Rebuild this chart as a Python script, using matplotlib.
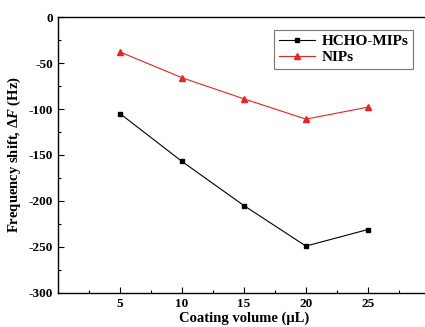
import matplotlib
matplotlib.use("Agg")
import matplotlib.pyplot as plt
from matplotlib.ticker import MultipleLocator

plt.rcParams['font.family'] = 'Liberation Serif'
plt.rcParams['font.weight'] = 'bold'
plt.rcParams['axes.unicode_minus'] = False
plt.rcParams['mathtext.fontset'] = 'custom'
plt.rcParams['mathtext.rm'] = 'Liberation Serif:bold'
plt.rcParams['mathtext.it'] = 'Liberation Serif:italic:bold'
plt.rcParams['mathtext.bf'] = 'Liberation Serif:bold'

volume = [5, 10, 15, 20, 25]
mips = [-105, -157, -205, -249, -231]
nips = [-38, -66, -89, -111, -98]

fig = plt.figure(figsize=(4.25, 3.27), dpi=100)
ax = fig.add_axes([0.1365, 0.104, 0.875, 0.844])

ax.plot(volume, mips, color="black", linewidth=0.8, marker="s", markersize=3.5, label="HCHO-MIPs")
ax.plot(volume, nips, color="#ee2222", linewidth=0.8, marker="^", markersize=5, label="NIPs")

ax.set_xlim(0, 30)
ax.set_ylim(-300, 0)
ax.xaxis.set_major_locator(MultipleLocator(5))
ax.xaxis.set_minor_locator(MultipleLocator(2.5))
ax.yaxis.set_major_locator(MultipleLocator(50))
ax.yaxis.set_minor_locator(MultipleLocator(25))
ax.set_xticks([5, 10, 15, 20, 25])
ax.tick_params(which="both", direction="in", labelsize=9.5, width=0.8)
ax.tick_params(which="major", length=4)
ax.tick_params(which="minor", length=2)
for s in ax.spines.values():
    s.set_linewidth(1.0)

ax.set_xlabel("Coating volume (μL)", fontsize=10.5, fontweight="bold", labelpad=1)
ax.set_ylabel(r"Frequency shift, $\Delta\mathit{F}$ (Hz)", fontsize=10.5, fontweight="bold")

leg = ax.legend(loc="upper right", bbox_to_anchor=(413 / 425, 1 - 30 / 327),
                bbox_transform=fig.transFigure, borderaxespad=0, fancybox=False,
                edgecolor="#555555", fontsize=11, handlelength=2.4, borderpad=0.3,
                labelspacing=0.15, handletextpad=0.4)
leg.get_frame().set_linewidth(0.8)

fig.savefig("out.png", dpi=100)
